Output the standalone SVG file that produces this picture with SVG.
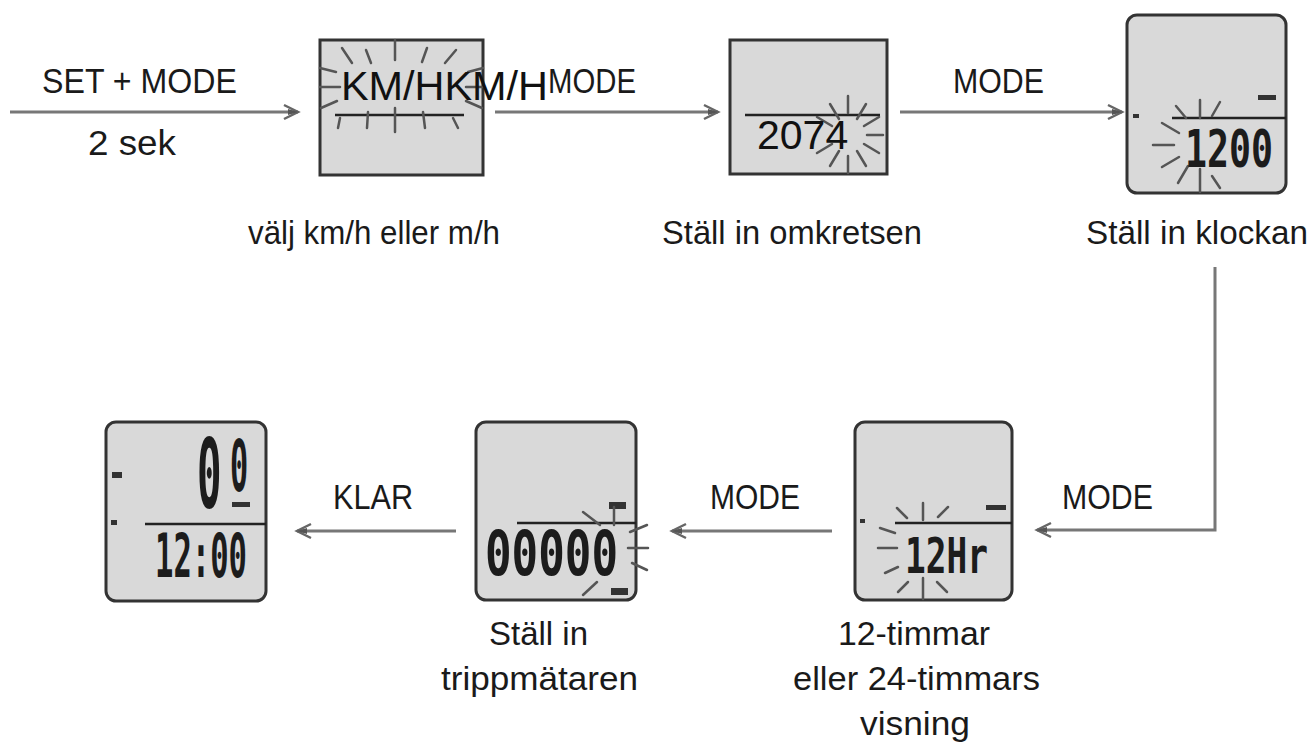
<svg xmlns="http://www.w3.org/2000/svg" width="1312" height="754" viewBox="0 0 1312 754">
<defs>
<marker id="ah" markerUnits="userSpaceOnUse" markerWidth="24" markerHeight="20" refX="20" refY="10" orient="auto">
<path d="M6,3 L20,10 L6,17" fill="none" stroke="#666" stroke-width="2.5"/>
<path d="M10,7 L20,10 L10,13 Z" fill="#555"/>
</marker>
<style>
.lbl{font-family:"Liberation Sans",Arial,sans-serif;font-size:35px;fill:#1a1a1a}
.cap{font-family:"Liberation Sans",Arial,sans-serif;font-size:34px;fill:#1a1a1a}
.ovl{font-family:"Liberation Sans",Arial,sans-serif;font-size:41px;fill:#111}
.lcd{font-family:"DejaVu Sans Mono","Liberation Mono",monospace;font-weight:bold;fill:#1c1c1c}
.scr{fill:#d9d9d9;stroke:#333;stroke-width:3}
.seg{stroke:#222;stroke-width:2.5;fill:none}
.ray{stroke:#555;stroke-width:2.5;fill:none;stroke-linecap:round}
.mk{fill:#333}
.con{stroke:#777;stroke-width:3;fill:none}
</style>
</defs>
<rect width="1312" height="754" fill="#fff"/>

<g id="connectors">
<line class="con" x1="10" y1="112" x2="298" y2="112" marker-end="url(#ah)"/>
<line class="con" x1="495" y1="112" x2="718" y2="112" marker-end="url(#ah)"/>
<line class="con" x1="900" y1="112" x2="1122" y2="112" marker-end="url(#ah)"/>
<path class="con" d="M1215,267 V530 H1037" marker-end="url(#ah)"/>
<line class="con" x1="832" y1="531" x2="672" y2="531" marker-end="url(#ah)"/>
<line class="con" x1="456" y1="531" x2="297" y2="531" marker-end="url(#ah)"/>
<text class="lbl" x="42" y="93" textLength="195" lengthAdjust="spacingAndGlyphs">SET + MODE</text>
<text class="lbl" x="88" y="155" textLength="88" lengthAdjust="spacingAndGlyphs">2 sek</text>
<text class="lbl" x="548" y="93" textLength="88" lengthAdjust="spacingAndGlyphs">MODE</text>
<text class="lbl" x="953" y="93" textLength="91" lengthAdjust="spacingAndGlyphs">MODE</text>
<text class="lbl" x="333" y="509" textLength="80" lengthAdjust="spacingAndGlyphs">KLAR</text>
<text class="lbl" x="710" y="509" textLength="90" lengthAdjust="spacingAndGlyphs">MODE</text>
<text class="lbl" x="1062" y="509" textLength="91" lengthAdjust="spacingAndGlyphs">MODE</text>
</g>

<g id="screen-unit">
<rect class="scr" x="320" y="40" width="163" height="135"/>
<g class="ray">
<line x1="395" y1="40" x2="395" y2="60"/>
<line x1="342" y1="48" x2="352" y2="63"/>
<line x1="366" y1="50" x2="371" y2="63"/>
<line x1="427" y1="48" x2="422" y2="62"/>
<line x1="456" y1="50" x2="445" y2="63"/>
<line x1="320" y1="68" x2="336" y2="72"/>
<line x1="320" y1="87" x2="340" y2="87"/>
<line x1="483" y1="68" x2="468" y2="72"/>
<line x1="483" y1="87" x2="466" y2="87"/>
<line x1="321" y1="108" x2="337" y2="101"/>
<line x1="482" y1="108" x2="466" y2="101"/>
</g>
<line class="seg" x1="335" y1="115" x2="464" y2="115"/>
<g class="ray">
<line x1="395" y1="108" x2="395" y2="132"/>
<line x1="340" y1="118" x2="338" y2="128"/>
<line x1="368" y1="112" x2="367" y2="128"/>
<line x1="423" y1="112" x2="425" y2="128"/>
<line x1="453" y1="118" x2="458" y2="128"/>
</g>
<text class="ovl" x="341" y="100" textLength="207" lengthAdjust="spacingAndGlyphs">KM/HKM/H</text>
<text class="cap" x="248" y="244" textLength="252" lengthAdjust="spacingAndGlyphs">välj km/h eller m/h</text>
</g>

<g id="screen-circumference">
<rect class="scr" x="730" y="40" width="157" height="134"/>
<line class="seg" x1="745" y1="115" x2="880" y2="115"/>
<g class="ray">
<line x1="867" y1="135" x2="883" y2="135"/>
<line x1="864" y1="144" x2="879" y2="153"/>
<line x1="857" y1="151" x2="866" y2="166"/>
<line x1="848" y1="156" x2="848" y2="173"/>
<line x1="839" y1="151" x2="830" y2="166"/>
<line x1="832" y1="144" x2="817" y2="153"/>
<line x1="832" y1="126" x2="817" y2="117"/>
<line x1="839" y1="119" x2="830" y2="104"/>
<line x1="848" y1="113" x2="848" y2="96"/>
<line x1="857" y1="119" x2="866" y2="104"/>
<line x1="864" y1="126" x2="879" y2="117"/>
</g>
<text class="ovl" x="757" y="149">2074</text>
<text class="cap" x="662" y="244" textLength="260" lengthAdjust="spacingAndGlyphs">Ställ in omkretsen</text>
</g>

<g id="screen-clock">
<rect class="scr" x="1127" y="15" width="159" height="178" rx="10"/>
<line class="seg" x1="1172" y1="118" x2="1286" y2="118"/>
<rect class="mk" x="1258" y="95" width="18" height="5"/>
<rect class="mk" x="1133" y="114" width="6" height="4"/>
<g class="ray">
<line x1="1200" y1="169" x2="1200" y2="192"/>
<line x1="1188" y1="166" x2="1178" y2="183"/>
<line x1="1179" y1="157" x2="1162" y2="167"/>
<line x1="1174" y1="145" x2="1153" y2="145"/>
<line x1="1179" y1="133" x2="1162" y2="123"/>
<line x1="1186" y1="118" x2="1176" y2="106"/>
<line x1="1200" y1="118" x2="1200" y2="100"/>
<line x1="1212" y1="116" x2="1220" y2="102"/>
<line x1="1212" y1="176" x2="1220" y2="188"/>
</g>
<text class="lcd" x="1185" y="167" font-size="52" textLength="88" lengthAdjust="spacingAndGlyphs">1200</text>
<text class="cap" x="1086" y="244" textLength="222" lengthAdjust="spacingAndGlyphs">Ställ in klockan</text>
</g>

<g id="screen-12-24">
<rect class="scr" x="855" y="422" width="157" height="178" rx="10"/>
<line class="seg" x1="895" y1="523" x2="1012" y2="523"/>
<rect class="mk" x="986" y="505" width="20" height="5"/>
<rect class="mk" x="860" y="519" width="5" height="4"/>
<g class="ray">
<line x1="923" y1="503" x2="923" y2="520"/>
<line x1="923" y1="578" x2="923" y2="599"/>
<line x1="878" y1="548" x2="897" y2="548"/>
<line x1="897" y1="508" x2="907" y2="518"/>
<line x1="880" y1="528" x2="895" y2="533"/>
<line x1="885" y1="573" x2="898" y2="567"/>
<line x1="898" y1="592" x2="908" y2="582"/>
<line x1="948" y1="507" x2="938" y2="517"/>
<line x1="937" y1="582" x2="947" y2="592"/>
</g>
<text class="lcd" x="905" y="573" font-size="50" textLength="83" lengthAdjust="spacingAndGlyphs">12Hr</text>
<text class="cap" x="838" y="645" textLength="152" lengthAdjust="spacingAndGlyphs">12-timmar</text>
<text class="cap" x="793" y="690" textLength="247" lengthAdjust="spacingAndGlyphs">eller 24-timmars</text>
<text class="cap" x="860" y="735" textLength="110" lengthAdjust="spacingAndGlyphs">visning</text>
</g>

<g id="screen-trip">
<rect class="scr" x="476" y="422" width="160" height="178" rx="10"/>
<line class="seg" x1="517" y1="523" x2="636" y2="523"/>
<rect class="mk" x="609" y="502" width="17" height="7"/>
<rect class="mk" x="611" y="588" width="17" height="7"/>
<g class="ray">
<line x1="630" y1="532" x2="647" y2="525"/>
<line x1="628" y1="548" x2="648" y2="548"/>
<line x1="632" y1="563" x2="647" y2="570"/>
<line x1="583" y1="512" x2="600" y2="525"/>
<line x1="583" y1="595" x2="597" y2="582"/>
<line x1="614" y1="507" x2="614" y2="525"/>
</g>
<text class="lcd" x="485" y="575" font-size="62" textLength="133" lengthAdjust="spacingAndGlyphs">00000</text>
<text class="cap" x="489" y="645" textLength="99" lengthAdjust="spacingAndGlyphs">Ställ in</text>
<text class="cap" x="441" y="690" textLength="197" lengthAdjust="spacingAndGlyphs">trippmätaren</text>
</g>

<g id="screen-done">
<rect class="scr" x="106" y="422" width="160" height="179" rx="10"/>
<line class="seg" x1="145" y1="524" x2="266" y2="524"/>
<rect class="mk" x="112" y="472" width="10" height="6"/>
<rect class="mk" x="111" y="520" width="6" height="5"/>
<rect class="mk" x="232" y="502" width="18" height="5"/>
<text class="lcd" x="197" y="508" font-size="97" transform="translate(197 508) scale(0.42 1) translate(-197 -508)">0<tspan font-size="72" dx="20" dy="-17">0</tspan></text>
<text class="lcd" x="155" y="577" font-size="60" textLength="92" lengthAdjust="spacingAndGlyphs">12:00</text>
</g>
</svg>
